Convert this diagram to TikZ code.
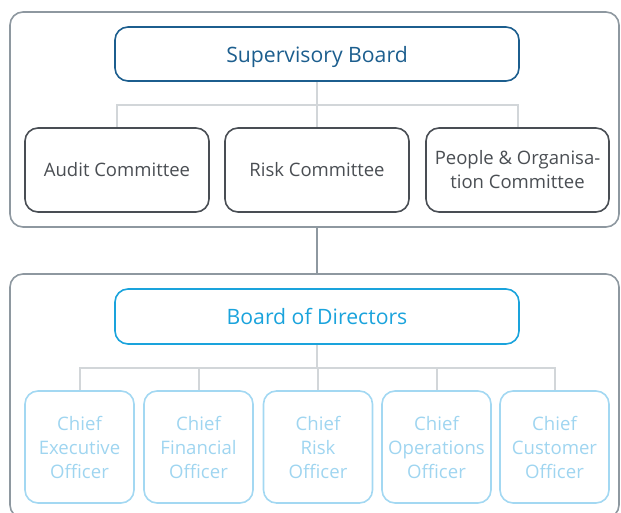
\documentclass[tikz,border=0pt]{standalone}
\usepackage{fontspec}
\setmainfont{Open Sans}
\definecolor{sbblue}{HTML}{1C5E8E}
\definecolor{bodblue}{HTML}{1AA3DC}
\definecolor{offblue}{HTML}{A3D8F2}
\definecolor{offtext}{HTML}{9FD5F0}
\definecolor{comgray}{HTML}{494E54}
\definecolor{comtext}{HTML}{4A4E53}
\definecolor{framegray}{HTML}{8E98A0}
\definecolor{linkgray}{HTML}{D2D6D9}
\begin{document}
\begin{tikzpicture}[x=1pt,y=-1pt,
  frame/.style={draw=framegray,line width=1.6pt,rounded corners=13pt,inner sep=0pt},
  board/.style={draw,line width=1.6pt,rounded corners=13pt,minimum width=404pt,inner sep=0pt,text height=21pt,text depth=4.5pt,font=\fontsize{21.2}{25}\selectfont},
  committee/.style={draw=comgray,text=comtext,line width=1.6pt,rounded corners=13pt,minimum width=184pt,minimum height=84pt,inner sep=0pt,align=center,font=\fontsize{18.5}{24}\selectfont},
  officer/.style={draw=offblue,text=offtext,line width=1.6pt,rounded corners=13pt,minimum width=109pt,minimum height=112pt,inner sep=0pt,align=center,font=\fontsize{18.6}{24}\selectfont},
  link/.style={draw=linkgray,line width=2pt},
  bridge/.style={draw=framegray,line width=2pt}]
\useasboundingbox (0,0) rectangle (621,513);
% frames
\node[frame,minimum width=609pt,minimum height=215pt] (topframe) at (314.5,119.5) {};
\node[frame,minimum width=609pt,minimum height=244pt] (botframe) at (314.5,396) {};
% boards
\node[board,draw=sbblue,text=sbblue,minimum height=54pt] (sb) at (317,54) {Supervisory Board};
\node[board,draw=bodblue,text=bodblue,minimum height=55pt] (bod) at (317,316.5) {Board of Directors};
% committees
\node[committee] (audit) at (117,170) {\raisebox{0pt}[14pt][-3pt]{Audit Committee}};
\node[committee] (risk) at (317,170) {\raisebox{0pt}[14pt][-3pt]{Risk Committee}};
\node[committee,minimum width=183pt] (people) at (517.5,170) {People \& Organisa-\\tion Committee};
% officers
\node[officer] (ceo) at (79.5,447) {Chief\\Executive\\Officer};
\node[officer] (cfo) at (198.5,447) {Chief\\Financial\\Officer};
\node[officer] (cro) at (318,447) {Chief\\Risk\\Officer};
\node[officer] (coo) at (436.5,447) {Chief\\Operations\\Officer};
\node[officer] (cco) at (554.5,447) {Chief\\Customer\\Officer};
% connectors
\coordinate (j1) at (317,105);
\coordinate (j2) at (317,368);
\draw[link] (sb.south) -- (j1);
\draw[link] (j1) -| (audit.north);
\draw[link] (j1) -| (people.north);
\draw[link] (j1) -- (risk.north);
\draw[link] (bod.south) -- (j2);
\draw[link] (j2) -| (ceo.north);
\draw[link] (j2) -| (cfo.north);
\draw[link] (j2) -| (coo.north);
\draw[link] (j2) -| (cco.north);
\draw[link] (j2) -| (cro.north);
\draw[bridge] (sb.south |- topframe.south) -- (sb.south |- botframe.north);
\end{tikzpicture}
\end{document}
